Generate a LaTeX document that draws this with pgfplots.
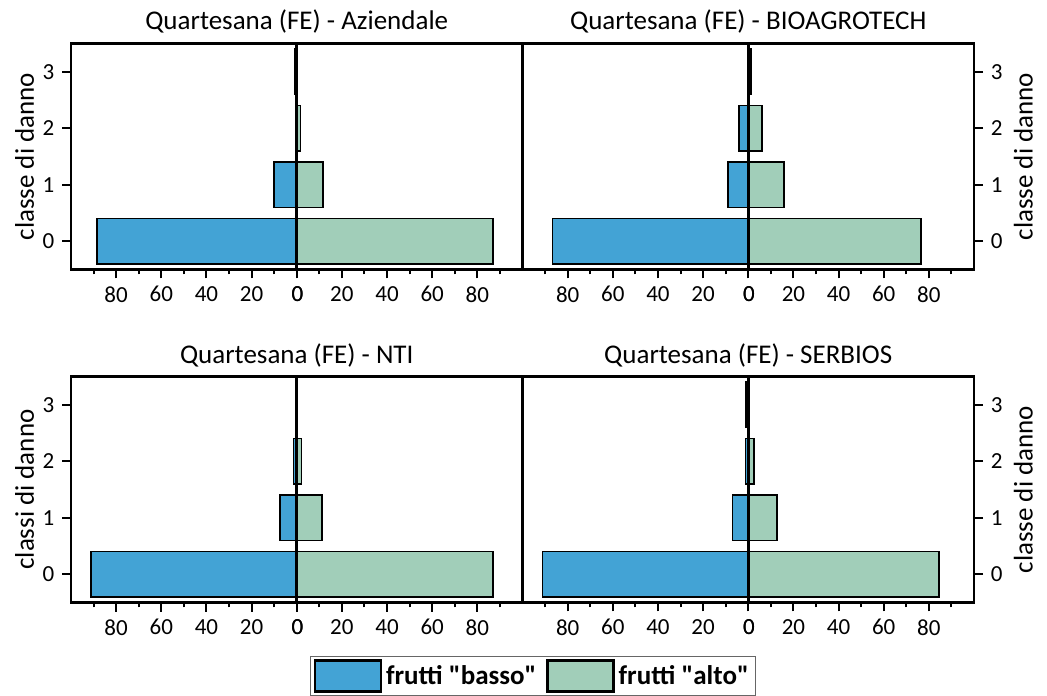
\documentclass[border=0pt]{standalone}
\usepackage{fontspec}
\setmainfont{Carlito}[Ligatures=TeXOff]
\usepackage{pgfplots}
\usepackage{pgfplotstable}
\pgfplotsset{compat=1.18}
\definecolor{cbasso}{HTML}{43A3D5}
\definecolor{calto}{HTML}{A1CEB9}

% class, basso (plotted to the left, negative), alto
\pgfplotstableread{
cls basso alto
0 -88.6 86.8
1 -10.2 11.7
2 0.0 1.6
3 -1.0 0.0
}\tAz
\pgfplotstableread{
cls basso alto
0 -86.7 76.5
1 -9.1 15.9
2 -4.0 6.1
3 0.0 1.3
}\tBio
\pgfplotstableread{
cls basso alto
0 -91.1 86.8
1 -7.5 11.3
2 -1.5 2.1
3 0.0 0.0
}\tNti
\pgfplotstableread{
cls basso alto
0 -91.1 84.5
1 -7.0 12.7
2 -1.2 2.5
3 -1.0 0.4
}\tSer

\pgfplotsset{
  panel/.style={
    scale only axis, width=225.75pt, height=113pt,
    anchor=south west,
    line width=1.15pt,
    xmin=-100, xmax=100, ymin=-0.5, ymax=3.5,
    xtick={-80,-60,-40,-20,20,40,60,80},
    xticklabels={80,60,40,20,20,40,60,80},
    extra x ticks={0,0},
    extra x tick labels={0,0},
    extra x tick style={tick label style={xshift=0.35pt}},
    minor xtick={-90,-70,-50,-30,-10,10,30,50,70,90},
    ytick={0,1,2,3},
    xtick pos=left,
    tick align=outside,
    major tick length=4.5pt, minor tick length=2.4pt,
    tick style={black, line width=1pt},
    /pgf/number format/assume math mode=true,
    tick label style={font=\fontsize{11.5}{14}\selectfont},
    every axis title/.style={font=\fontsize{13.5}{16}\selectfont, anchor=base, at={(0.5,1)}, yshift=6.75pt},
    label style={font=\fontsize{13.5}{16}\selectfont},
  },
  leftpanel/.style={panel, ytick pos=left,
    ylabel style={at={(axis description cs:-0.0824,0.5)}, anchor=base}},
  rightpanel/.style={panel, ytick pos=right, yticklabel pos=right,
    ylabel style={at={(axis description cs:1.130,0.5)}, anchor=base}},
  bassobar/.style={xbar, bar width=0.8, bar shift=0pt, fill=cbasso, draw=black, line width=0.8pt},
  altobar/.style={xbar, bar width=0.8, bar shift=0pt, fill=calto, draw=black, line width=0.8pt},
  zeroline/.style={sharp plot, black, line width=1.5pt, forget plot, mark=none},
}

\begin{document}
\begin{tikzpicture}
\path[use as bounding box] (0,0) rectangle (523.5pt,347.5pt);

\begin{axis}[leftpanel, at={(35.5pt,212.75pt)},
  title={Quartesana (FE) - Aziendale}, ylabel={classe di danno}]
\addplot[bassobar] table[x=basso, y=cls] {\tAz};
\addplot[altobar] table[x=alto, y=cls] {\tAz};
\addplot[zeroline] coordinates {(0,-0.5) (0,3.5)};
\end{axis}

\begin{axis}[rightpanel, at={(261.25pt,212.75pt)},
  title={Quartesana (FE) - BIOAGROTECH}, ylabel={classe di danno}]
\addplot[bassobar] table[x=basso, y=cls] {\tBio};
\addplot[altobar] table[x=alto, y=cls] {\tBio};
\addplot[zeroline] coordinates {(0,-0.5) (0,3.5)};
\end{axis}

\begin{axis}[leftpanel, at={(35.5pt,46.25pt)},
  title={Quartesana (FE) - NTI}, ylabel={classi di danno},
  legend columns=2,
  legend cell align=left,
  legend style={at={(1.024,-0.236)}, anchor=north, draw=black!60, line width=0.6pt,
    font=\bfseries\fontsize{13.5}{16}\selectfont, inner sep=1.5pt,
    /tikz/every even column/.append style={column sep=3pt}}]
\addplot[bassobar, legend image code/.code={\draw[fill=cbasso, draw=black, line width=1.1pt] (0pt,-7.75pt) rectangle (33pt,7.75pt);}] table[x=basso, y=cls] {\tNti};
\addlegendentry{frutti "basso"}
\addplot[altobar, legend image code/.code={\draw[fill=calto, draw=black, line width=1.1pt] (0pt,-7.75pt) rectangle (33pt,7.75pt);}] table[x=alto, y=cls] {\tNti};
\addlegendentry{frutti "alto"}
\addplot[zeroline] coordinates {(0,-0.5) (0,3.5)};
\end{axis}

\begin{axis}[rightpanel, at={(261.25pt,46.25pt)},
  title={Quartesana (FE) - SERBIOS}, ylabel={classe di danno}]
\addplot[bassobar] table[x=basso, y=cls] {\tSer};
\addplot[altobar] table[x=alto, y=cls] {\tSer};
\addplot[zeroline] coordinates {(0,-0.5) (0,3.5)};
\end{axis}
\end{tikzpicture}
\end{document}
